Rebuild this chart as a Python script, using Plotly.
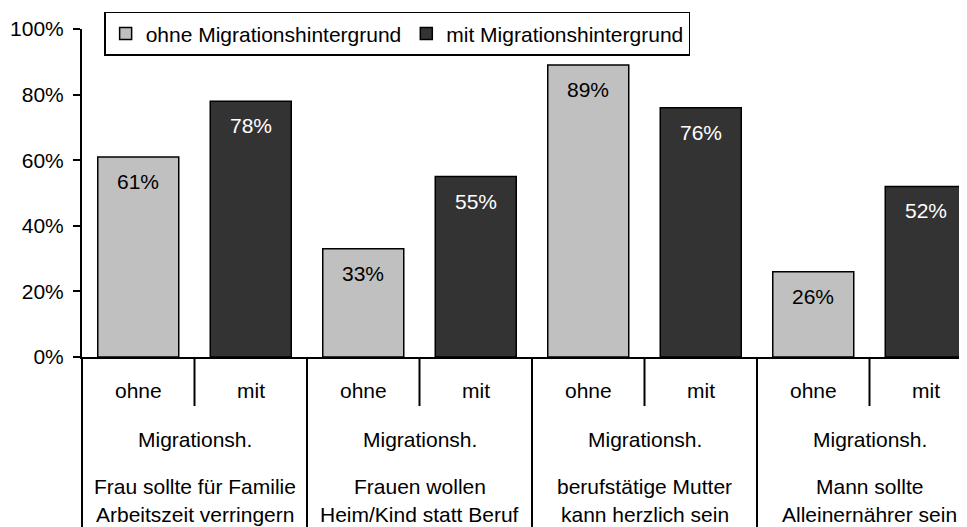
import plotly.graph_objects as go

# ---- data ----
groups = [
    "Frau sollte für Familie<br>Arbeitszeit verringern",
    "Frauen wollen<br>Heim/Kind statt Beruf",
    "berufstätige Mutter<br>kann herzlich sein",
    "Mann sollte<br>Alleinernährer sein",
]
series_names = ["ohne Migrationshintergrund", "mit Migrationshintergrund"]
sub_labels = ["ohne", "mit"]
group_sub = "Migrationsh."
ohne_values = [61, 33, 89, 26]
mit_values = [78, 55, 76, 52]
y_ticks = [0, 20, 40, 60, 80, 100]

FONT = "Liberation Sans, Arial, sans-serif"
FS = 21
LIGHT = "#C0C0C0"
DARK = "#333333"

n_groups = len(groups)
x_ohne = [2 * g for g in range(n_groups)]
x_mit = [2 * g + 1 for g in range(n_groups)]

fig = go.Figure()
fig.add_trace(go.Bar(x=x_ohne, y=ohne_values, name=series_names[0], width=0.72,
                     marker=dict(color=LIGHT, line=dict(color="black", width=1.5))))
fig.add_trace(go.Bar(x=x_mit, y=mit_values, name=series_names[1], width=0.72,
                     marker=dict(color=DARK, line=dict(color="black", width=1.5))))

annotations = []
for xs, vals, col in [(x_ohne, ohne_values, "black"), (x_mit, mit_values, "white")]:
    for x, v in zip(xs, vals):
        annotations.append(dict(x=x, y=v, xref="x", yref="y", text=f"{v}%", showarrow=False,
                                yanchor="top", yshift=-11, font=dict(size=FS, color=col, family=FONT)))

PLOT_H = 328
shapes = []
for g in range(n_groups):
    for k, lab in enumerate(sub_labels):
        annotations.append(dict(x=2 * g + k, y=0, xref="x", yref="paper", text=lab, showarrow=False,
                                yanchor="middle", yshift=-33, font=dict(size=FS, color="black", family=FONT)))
    annotations.append(dict(x=2 * g + 0.5, y=0, xref="x", yref="paper", text=group_sub, showarrow=False,
                            yanchor="middle", yshift=-82, font=dict(size=FS, color="black", family=FONT)))
    for li, line in enumerate(groups[g].split("<br>")):
        annotations.append(dict(x=2 * g + 0.5, y=0, xref="x", yref="paper", text=line, showarrow=False,
                                yanchor="middle", yshift=-129 - 28 * li,
                                font=dict(size=FS, color="black", family=FONT)))
    shapes.append(dict(type="line", xref="x", yref="paper", x0=2 * g + 0.5, x1=2 * g + 0.5,
                       y0=0, y1=-49 / PLOT_H, line=dict(color="black", width=2)))
    if g < n_groups - 1:
        shapes.append(dict(type="line", xref="x", yref="paper", x0=2 * g + 1.5, x1=2 * g + 1.5,
                           y0=0, y1=-0.55, line=dict(color="black", width=2)))
shapes.append(dict(type="line", xref="paper", yref="paper", x0=0, x1=0, y0=0, y1=-0.55,
                   line=dict(color="black", width=2)))

fig.update_layout(
    width=959, height=519,
    margin=dict(l=74, r=0, t=21, b=170),
    paper_bgcolor="white", plot_bgcolor="white",
    barmode="overlay",
    font=dict(family=FONT, size=FS, color="black"),
    showlegend=True,
    legend=dict(orientation="h", x=0.025, y=1.052, xanchor="left", yanchor="top",
                bgcolor="white", bordercolor="black", borderwidth=1.5,
                font=dict(size=FS, family=FONT, color="black"), traceorder="normal"),
    xaxis=dict(range=[-0.5, -0.5 + 885 / 112.5], showticklabels=False, ticks="",
               showgrid=False, zeroline=False, showline=True, linecolor="black", linewidth=2),
    yaxis=dict(range=[0, 100], tickvals=y_ticks, ticktext=[f"{t}%" for t in y_ticks],
               ticks="outside", ticklen=7, tickwidth=2, tickcolor="black",
               showgrid=False, zeroline=False, showline=True, linecolor="black", linewidth=2,
               ticklabelstandoff=5, tickfont=dict(size=FS, family=FONT, color="black")),
    annotations=annotations,
    shapes=shapes,
)

fig.write_html("out.html")
